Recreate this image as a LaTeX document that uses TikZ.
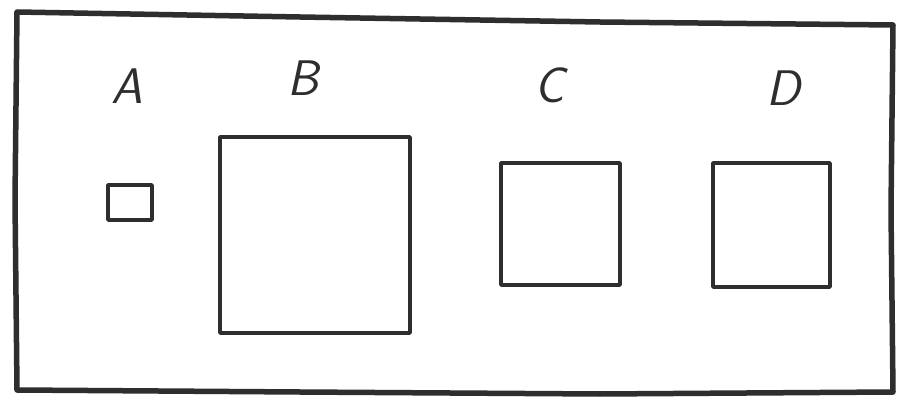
\documentclass[tikz,border=0pt]{standalone}
\usepackage{fontspec}
\setmainfont{DejaVu Sans}[Scale=1]
\begin{document}
\begin{tikzpicture}[x=1pt,y=-1pt,
  ink/.style={draw=black!82, line join=round, line cap=round},
  frame/.style={ink, line width=5.5pt},
  box/.style={ink, line width=3.4pt, inner sep=0pt, outer sep=0pt},
  lbl/.style={text=black!82, font=\fontsize{50}{50}\selectfont\sffamily\itshape, inner sep=0pt}]
\useasboundingbox (0,0) rectangle (898,401);
\fill[white] (0,0) rectangle (898,401);
% outer frame (slightly hand drawn)
\draw[frame] (17,12) -- (300,17) -- (600,22) -- (893,25) -- (891,210) -- (893,392) -- (600,394) -- (300,392) -- (17,390) -- (15,200) -- cycle;
% squares
\node[box, minimum width=44pt, minimum height=35pt] (A) at (130,202.5) {};
\node[box, minimum width=190pt, minimum height=196pt] (B) at (315,235) {};
\node[box, minimum width=119pt, minimum height=122pt] (C) at (560.5,224) {};
\node[box, minimum width=117pt, minimum height=124pt] (D) at (771.5,225) {};
% labels
\node[lbl] (la) at (127,86) {A};
\node[lbl] (lb) at (303,78) {B};
\node[lbl] (lc) at (550,85) {C};
\node[lbl] (ld) at (783,88) {D};
\end{tikzpicture}
\end{document}
